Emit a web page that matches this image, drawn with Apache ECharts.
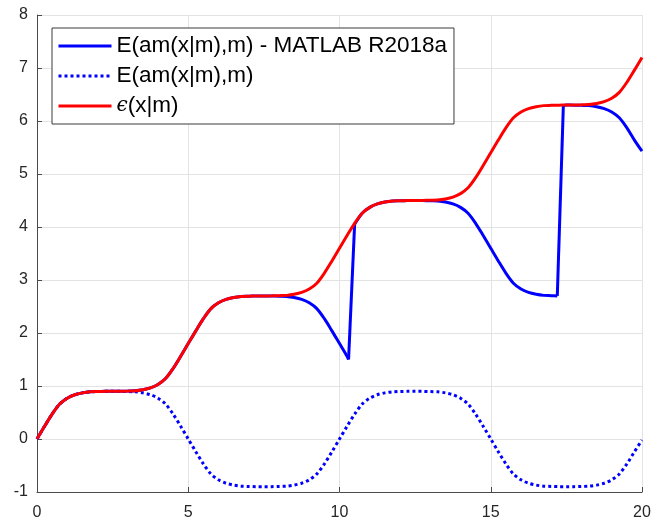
<!DOCTYPE html>
<html>
<head>
<meta charset="utf-8">
<title>E(am(x|m),m)</title>
<script src="https://cdn.jsdelivr.net/npm/echarts@6/dist/echarts.min.js"></script>
<style>
    html, body { margin: 0; padding: 0; background: #fff; }
    #main { width: 662px; height: 521px; }
</style>
</head>
<body>
<div id="main"></div>
<script>
// x 网格 (红线与点线共用)
var xGrid = [0,0.25,0.5,0.75,1,1.25,1.5,1.75,2,2.25,2.5,2.75,3,3.25,3.5,3.75,4,4.25,4.5,4.75,5,
    5.25,5.5,5.75,6,6.25,6.5,6.75,7,7.25,7.5,7.75,8,8.25,8.5,8.75,9,9.25,9.5,9.75,10,
    10.25,10.5,10.75,11,11.25,11.5,11.75,12,12.25,12.5,12.75,13,13.25,13.5,13.75,14,14.25,14.5,14.75,15,
    15.25,15.5,15.75,16,16.25,16.5,16.75,17,17.25,17.5,17.75,18,18.25,18.5,18.75,19,19.25,19.5,19.75,20];

// ϵ(x|m)
var epsY = [0,0.24,0.47,0.66,0.77,0.835,0.87,0.89,0.895,0.899,0.9,0.901,0.905,0.91,0.93,0.965,1.03,1.14,1.33,1.56,1.8,
    2.04,2.27,2.46,2.57,2.635,2.67,2.69,2.695,2.699,2.7,2.701,2.705,2.71,2.73,2.765,2.83,2.94,3.13,3.36,3.6,
    3.84,4.07,4.26,4.37,4.435,4.47,4.49,4.495,4.499,4.5,4.501,4.505,4.51,4.53,4.565,4.63,4.74,4.93,5.16,5.4,
    5.64,5.87,6.06,6.17,6.235,6.27,6.29,6.295,6.299,6.3,6.301,6.305,6.31,6.33,6.365,6.43,6.54,6.73,6.96,7.2];

// E(am(x|m),m) 点线
var dotY = [0,0.24,0.47,0.66,0.77,0.835,0.87,0.89,0.895,0.899,0.9,0.899,0.895,0.89,0.87,0.835,0.77,0.66,0.47,0.24,0,
    -0.24,-0.47,-0.66,-0.77,-0.835,-0.87,-0.89,-0.895,-0.899,-0.9,-0.899,-0.895,-0.89,-0.87,-0.835,-0.77,-0.66,-0.47,-0.24,0,
    0.24,0.47,0.66,0.77,0.835,0.87,0.89,0.895,0.899,0.9,0.899,0.895,0.89,0.87,0.835,0.77,0.66,0.47,0.24,0,
    -0.24,-0.47,-0.66,-0.77,-0.835,-0.87,-0.89,-0.895,-0.899,-0.9,-0.899,-0.895,-0.89,-0.87,-0.835,-0.77,-0.66,-0.47,-0.24,-0.02];

// E(am(x|m),m) - MATLAB R2018a 实线 (有跳变)
var matX = [0,0.25,0.5,0.75,1,1.25,1.5,1.75,2,2.25,2.5,2.75,3,3.25,3.5,3.75,4,4.25,4.5,4.75,5,
    5.25,5.5,5.75,6,6.25,6.5,6.75,7,7.25,7.5,7.75,8,8.25,8.5,8.75,9,9.25,9.5,9.75,10,10.25,
    10.3,10.5,10.75,11,11.25,11.5,11.75,12,12.25,12.5,
    12.75,13,13.25,13.5,13.75,14,14.25,14.5,14.75,15,15.25,15.5,15.75,16,16.25,16.5,16.75,17,
    17.2,17.4,17.5,17.75,18,18.25,18.5,18.75,19,19.25,19.5,19.75,20];
var matY = [0,0.24,0.47,0.66,0.77,0.835,0.87,0.89,0.895,0.899,0.9,0.901,0.905,0.91,0.93,0.965,1.03,1.14,1.33,1.56,1.8,
    2.04,2.27,2.46,2.57,2.635,2.67,2.69,2.695,2.699,2.7,2.699,2.695,2.69,2.67,2.635,2.57,2.46,2.27,2.04,1.8,1.56,
    1.5,4.05,4.26,4.37,4.435,4.47,4.49,4.495,4.499,4.5,
    4.499,4.495,4.49,4.47,4.435,4.37,4.26,4.07,3.84,3.6,3.36,3.13,2.94,2.83,2.765,2.73,2.71,2.705,
    2.7,6.29,6.3,6.299,6.295,6.29,6.27,6.235,6.17,6.06,5.87,5.64,5.43];
// 跳变前最低点的下标 (x=10.3, x=17.2)
var jumpIdx = [42, 70];

var names = ['E(am(x|m),m) - MATLAB R2018a', 'E(am(x|m),m)', 'ϵ(x|m)'];

function zip(xs, ys) {
    var out = [];
    for (var i = 0; i < xs.length; i++) {
        out.push([xs[i], ys[i]]);
    }
    return out;
}

var axisColor = '#4a4a4a';
var labelColor = '#262626';
var gridColor = '#e3e3e3';
var fontName = 'Liberation Sans, Arial, Helvetica, sans-serif';

var defaultLine = {
    type: 'line',
    showSymbol: false,
    symbol: 'none',
    smooth: 0.3
};

// 实线按跳变拆段: 平滑段 + 直线跳变段
var matData = zip(matX, matY);
var matSeries = [];
var start = 0;
for (var k = 0; k < jumpIdx.length; k++) {
    matSeries.push({ data: matData.slice(start, jumpIdx[k] + 1) });
    matSeries.push({ data: matData.slice(jumpIdx[k], jumpIdx[k] + 2), smooth: false });
    start = jumpIdx[k] + 1;
}
matSeries.push({ data: matData.slice(start) });
matSeries = matSeries.map(function (item) {
    return Object.assign({
        name: names[0],
        color: '#0000ff',
        lineStyle: { width: 3, color: '#0000ff' }
    }, item);
});

var chart = echarts.init(document.getElementById('main'), null, { renderer: 'canvas' });
chart.setOption({
    animation: false,
    backgroundColor: '#fff',
    grid: {
        left: 37,
        right: 20,
        top: 15,
        bottom: 29
    },
    legend: {
        orient: 'vertical',
        left: 52,
        top: 28,
        itemWidth: 53,
        itemHeight: 14,
        itemGap: 4,
        padding: [5, 7, 5, 5],
        backgroundColor: '#fff',
        borderColor: '#3a3a3a',
        borderWidth: 1,
        borderRadius: 0,
        itemStyle: { opacity: 0 },
        lineStyle: { width: 3 },
        textStyle: {
            color: '#000',
            fontSize: 22.5,
            lineHeight: 26,
            fontFamily: fontName,
            rich: {
                e: { fontSize: 20, fontStyle: 'italic', fontFamily: 'DejaVu Serif, serif', color: '#000', lineHeight: 26 }
            }
        },
        formatter: function (name) {
            if (name === names[2]) {
                return '{e|ϵ}(x|m)';
            }
            return name;
        },
        data: names
    },
    xAxis: {
        type: 'value',
        min: 0,
        max: 20,
        interval: 5,
        axisLine: { show: true, onZero: false, lineStyle: { color: axisColor, width: 1 } },
        axisTick: { show: true, inside: true, length: 5, lineStyle: { color: axisColor } },
        axisLabel: { color: labelColor, fontSize: 16, fontFamily: fontName, margin: 13 },
        splitLine: { show: true, lineStyle: { color: gridColor, width: 1 } }
    },
    yAxis: {
        type: 'value',
        min: -1,
        max: 8,
        interval: 1,
        axisLine: { show: true, onZero: false, lineStyle: { color: axisColor, width: 1 } },
        axisTick: { show: true, inside: true, length: 5, lineStyle: { color: axisColor } },
        axisLabel: { color: labelColor, fontSize: 16, fontFamily: fontName, margin: 9 },
        splitLine: { show: true, lineStyle: { color: gridColor, width: 1 } }
    },
    series: matSeries.concat([{
        name: names[1],
        data: zip(xGrid, dotY),
        color: '#0000ff',
        lineStyle: { width: 3, color: '#0000ff', type: [3, 3], cap: 'butt' }
    }, {
        name: names[2],
        data: zip(xGrid, epsY),
        color: '#ff0000',
        lineStyle: { width: 3, color: '#ff0000' }
    }]).map(function (item) {
        return Object.assign({}, defaultLine, item);
    })
});
</script>
</body>
</html>
